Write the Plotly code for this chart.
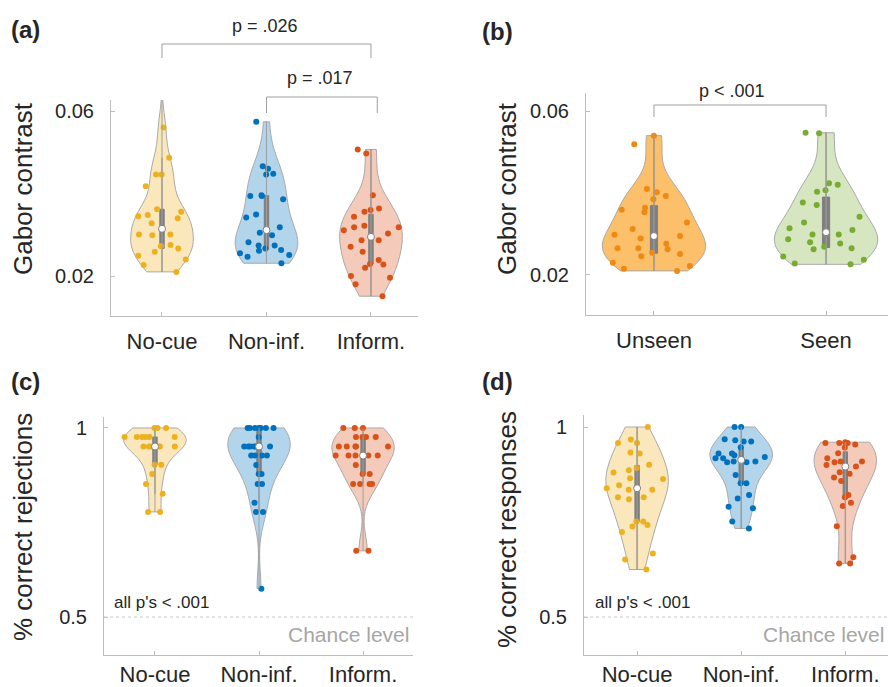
import numpy as np
import plotly.graph_objects as go

W, H = 888, 687

# ---------------- data ----------------
cond3 = ["No-cue", "Non-inf.", "Inform."]
cond2 = ["Unseen", "Seen"]

# (a) Gabor contrast by cue condition
a_nocue = [0.0560, 0.0487, 0.0446, 0.0446, 0.0418, 0.0362, 0.0356, 0.0348, 0.0345, 0.0340,
           0.0328, 0.0301, 0.0301, 0.0299, 0.0275, 0.0273, 0.0267, 0.0259, 0.0249, 0.0240,
           0.0227, 0.0210]
a_noninf = [0.0574, 0.0466, 0.0460, 0.0448, 0.0446, 0.0396, 0.0394, 0.0394, 0.0386, 0.0349,
            0.0342, 0.0318, 0.0305, 0.0299, 0.0282, 0.0274, 0.0274, 0.0267, 0.0263, 0.0261,
            0.0255, 0.0251, 0.0247, 0.0231]
a_inform = [0.0507, 0.0497, 0.0396, 0.0364, 0.0360, 0.0356, 0.0344, 0.0322, 0.0318, 0.0318,
            0.0311, 0.0303, 0.0287, 0.0287, 0.0271, 0.0259, 0.0239, 0.0229, 0.0228, 0.0220,
            0.0200, 0.0196, 0.0180, 0.0151]

# (b) Gabor contrast by awareness
b_unseen = [0.0540, 0.0519, 0.0410, 0.0402, 0.0393, 0.0385, 0.0364, 0.0359, 0.0353, 0.0328,
            0.0312, 0.0298, 0.0295, 0.0289, 0.0276, 0.0265, 0.0265, 0.0263, 0.0254, 0.0251,
            0.0246, 0.0230, 0.0222, 0.0215, 0.0210]
b_seen = [0.0547, 0.0546, 0.0424, 0.0420, 0.0407, 0.0403, 0.0377, 0.0371, 0.0342, 0.0328,
          0.0314, 0.0310, 0.0299, 0.0299, 0.0287, 0.0280, 0.0277, 0.0269, 0.0265, 0.0263,
          0.0245, 0.0237, 0.0228, 0.0226]

# (c) % correct rejections
c_nocue = [1, 1, 1, .976, .976, .976, .976, .976, .976, .951, .951, .951, .951, .951, .951,
           .903, .903, .878, .852, .826, .778, .778]
c_noninf = [1, 1, 1, 1, 1, 1, 1, .976, .951, .951, .951, .951, .951, .951, .927, .927, .927,
            .927, .902, .878, .878, .852, .852, .802, .778, .778, .575]
c_inform = [1, 1, 1, .976, .976, .976, .976, .951, .951, .951, .951, .951, .927, .927, .927,
            .927, .927, .902, .878, .878, .852, .852, .852, .852, .675, .675]

# (d) % correct responses
d_nocue = [1.0, .967, .958, .958, .933, .930, .901, .892, .886, .880, .865, .863, .847, .839,
           .835, .835, .815, .815, .810, .751, .751, .742, .738, .724, .667, .651, .625]
d_noninf = [1.0, 1.0, .968, .965, .962, .962, .947, .930, .930, .926, .921, .918, .918, .909,
            .909, .907, .907, .874, .852, .852, .821, .812, .790, .786, .751, .733]
d_inform = [.960, .958, .958, .958, .954, .946, .931, .918, .909, .909, .907, .900, .896, .881,
            .877, .867, .858, .821, .815, .801, .792, .739, .657, .641, .641]

# ---------------- styling ----------------
FONT = "Liberation Sans, Arial, Helvetica, sans-serif"
AX = "#BDBDBD"
TXT = "#262626"
C3_DOT = ["#EDB120", "#0072BD", "#D95319"]
C3_FILL = ["#FAE8BC", "#B3D5EB", "#F4CBBA"]
C2_DOT = ["#EE8A12", "#77AC30"]
C2_FILL = ["#FCBF6A", "#D6E6C1"]


def px(x):
    return x / W


def py(y):
    return 1 - y / H


fig = go.Figure()


def add_group(vals, colors_dot, colors_fill, xa, ya, tops=None):
    for i, v in enumerate(vals):
        pos = i + 1
        v = np.asarray(v, dtype=float)
        lo, hi = v.min(), v.max()
        if tops is not None and tops[i] is not None:
            hi = tops[i]
            span = dict(spanmode="manual", span=[lo, hi])
        else:
            span = dict(spanmode="hard")
        fig.add_trace(go.Violin(
            y=v, x0=pos, xaxis=xa, yaxis=ya, width=0.6, scalemode="width",
            fillcolor=colors_fill[i], line=dict(color="#A9A9A9", width=1),
            points="all", pointpos=0, jitter=1.0,
            marker=dict(color=colors_dot[i], size=6, line=dict(width=0)),
            box=dict(visible=True, width=0.07, fillcolor="#7F7F7F",
                     line=dict(color="#7F7F7F", width=1)),
            hoverinfo="skip", showlegend=False, **span))
        # thin centre line spanning the violin
        fig.add_trace(go.Scatter(
            x=[pos, pos], y=[lo, hi], mode="lines", xaxis=xa, yaxis=ya,
            line=dict(color="#A0A0A0", width=1), hoverinfo="skip", showlegend=False))
        # median dot
        fig.add_trace(go.Scatter(
            x=[pos], y=[float(np.median(v))], mode="markers", xaxis=xa, yaxis=ya,
            marker=dict(color="white", size=7, line=dict(color="#7F7F7F", width=1)),
            hoverinfo="skip", showlegend=False))


add_group([a_nocue, a_noninf, a_inform], C3_DOT, C3_FILL, "x", "y", tops=[0.065, None, None])
add_group([b_unseen, b_seen], C2_DOT, C2_FILL, "x2", "y2")
add_group([c_nocue, c_noninf, c_inform], C3_DOT, C3_FILL, "x3", "y3")
add_group([d_nocue, d_noninf, d_inform], C3_DOT, C3_FILL, "x4", "y4")


def xax(dom, rng, vals, text, anchor, standoff):
    return dict(domain=[px(dom[0]), px(dom[1])], range=rng, tickvals=vals, ticktext=text,
                ticks="inside", ticklen=4, tickcolor=AX, showline=True, linecolor=AX,
                linewidth=1, showgrid=False, zeroline=False, anchor=anchor,
                tickfont=dict(family=FONT, size=22, color=TXT), ticklabelstandoff=standoff,
                fixedrange=True)


def yax(dom, rng, vals, text, anchor):
    return dict(domain=[py(dom[1]), py(dom[0])], range=rng, tickvals=vals, ticktext=text,
                ticks="inside", ticklen=4, tickcolor=AX, showline=True, linecolor=AX,
                linewidth=1, showgrid=False, zeroline=False, anchor=anchor,
                tickfont=dict(family=FONT, size=20, color=TXT), ticklabelstandoff=12,
                fixedrange=True)


fig.update_layout(
    width=W, height=H, margin=dict(l=0, r=0, t=0, b=0),
    paper_bgcolor="white", plot_bgcolor="white", showlegend=False,
    font=dict(family=FONT, color=TXT),
    xaxis=xax((111, 418), [0.512, 3.45], [1, 2, 3], cond3, "y", 6),
    yaxis=yax((100, 316), [0.0103, 0.0627], [0.02, 0.06], ["0.02", "0.06"], "x"),
    xaxis2=xax((586, 888), [0.605, 2.36], [1, 2], cond2, "y2", 6),
    yaxis2=yax((93, 315), [0.01024, 0.0644], [0.02, 0.06], ["0.02", "0.06"], "x2"),
    xaxis3=xax((104, 413), [0.51, 3.48], [1, 2, 3], cond3, "y3", 0),
    yaxis3=yax((417, 655), [0.3995, 1.029], [0.5, 1], ["0.5", "1"], "x3"),
    xaxis4=xax((584, 888), [0.49, 3.41], [1, 2, 3], cond3, "y4", 0),
    yaxis4=yax((415, 655), [0.4, 1.0316], [0.5, 1], ["0.5", "1"], "x4"),
)

GRAYLINE = "#9E9E9E"
shapes = []


def bracket(x0, x1, xref, ytop, ybot):
    shapes.append(dict(type="path", xref=xref, yref="paper",
                       path=f"M {x0} {py(ybot)} L {x0} {py(ytop)} L {x1} {py(ytop)} L {x1} {py(ybot)}",
                       line=dict(color=GRAYLINE, width=1)))


bracket(1, 3, "x", 44, 58)
bracket(2, 3.06, "x", 97, 113)
bracket(1, 2, "x2", 105, 117)

for xr, yr in (("x3", "y3"), ("x4", "y4")):
    shapes.append(dict(type="line", xref=f"{xr} domain", yref=yr, x0=0, x1=1, y0=0.5, y1=0.5,
                       line=dict(color="#C8C8C8", width=1, dash="dot")))
fig.update_layout(shapes=shapes)

ann = []


def text(x, y, s, size, color=TXT, xanchor="center", angle=0, bold=False):
    ann.append(dict(x=px(x), y=py(y), xref="paper", yref="paper", text=f"<b>{s}</b>" if bold else s,
                    showarrow=False, xanchor=xanchor, yanchor="middle", textangle=angle,
                    font=dict(family=FONT, size=size, color=color)))


text(9, 30, "(a)", 24, xanchor="left", bold=True)
text(480, 32, "(b)", 24, xanchor="left", bold=True)
text(9, 381, "(c)", 24, xanchor="left", bold=True)
text(480, 381, "(d)", 24, xanchor="left", bold=True)

text(23, 189, "Gabor contrast", 26, angle=-90)
text(507, 189, "Gabor contrast", 26, angle=-90)
text(23, 527, "% correct rejections", 26, angle=-90)
text(507, 530, "% correct responses", 26, angle=-90)

text(265, 26, "p = .026", 18)
text(320, 78, "p = .017", 18)
text(732, 91, "p < .001", 18)

text(112, 602, "all p's < .001", 17, xanchor="left")
text(593, 602, "all p's < .001", 17, xanchor="left")
text(411, 634, "Chance level", 21, color="#A6A6A6", xanchor="right")
text(886, 634, "Chance level", 21, color="#A6A6A6", xanchor="right")

fig.update_layout(annotations=ann)

fig.write_html("out.html", config={"displayModeBar": False},
               post_script="document.body.style.margin='0';document.body.style.overflow='hidden';")
